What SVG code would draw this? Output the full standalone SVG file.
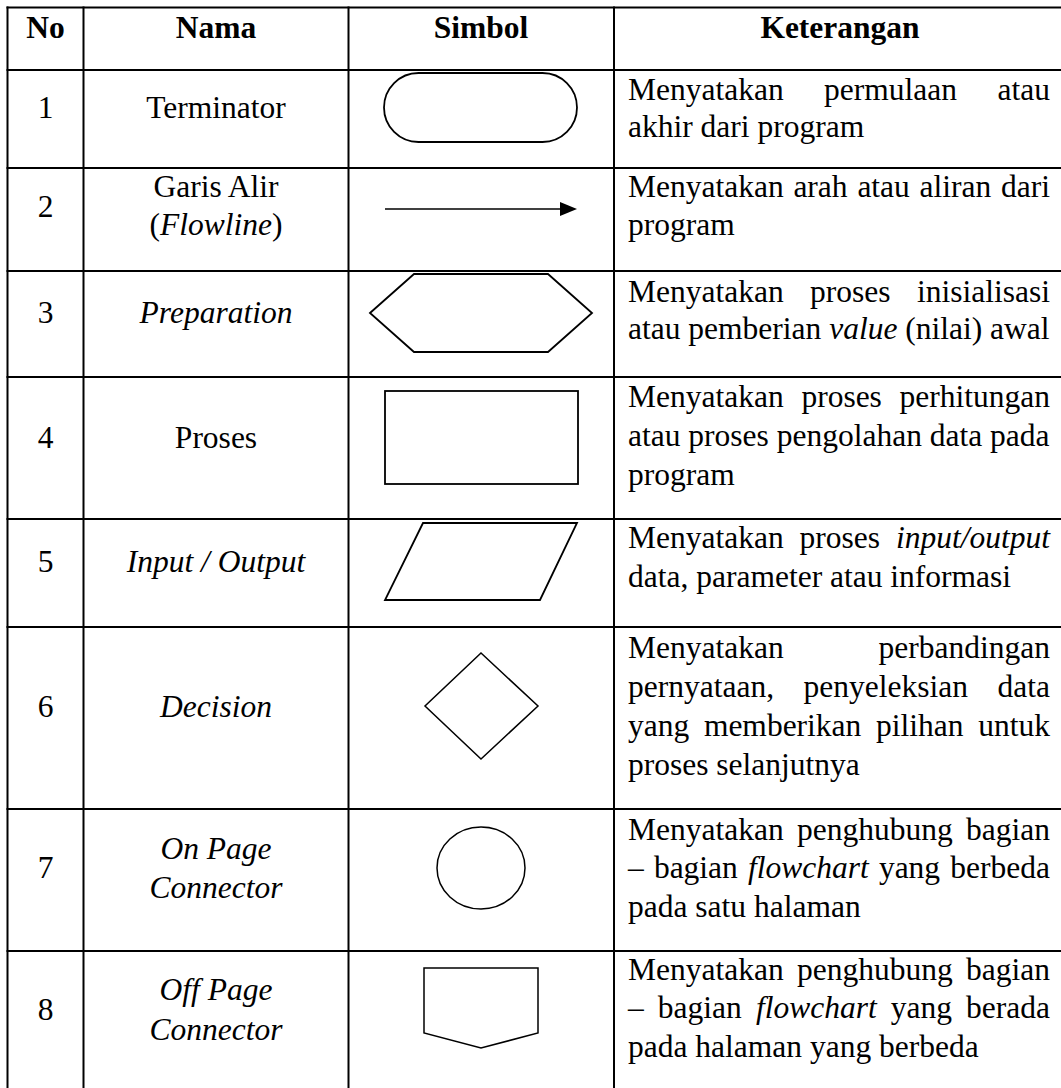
<svg xmlns="http://www.w3.org/2000/svg" width="1061" height="1088" viewBox="0 0 1061 1088">
<style>
text{font-family:"Liberation Serif","Times New Roman",serif;font-size:31.5px;fill:#000}
.h{font-weight:bold}
.c{text-anchor:middle}
.e{text-anchor:end}
.i{font-style:italic}
.grid line{stroke:#000;stroke-width:2}
.shape{fill:none;stroke:#000;stroke-width:1.8}
.thin{fill:none;stroke:#000;stroke-width:1.5}
</style>
<rect width="1061" height="1088" fill="#fff"/>
<g id="grid" class="grid">
<line x1="7.5" y1="6.5" x2="7.5" y2="1088"/>
<line x1="83.5" y1="6.5" x2="83.5" y2="1088"/>
<line x1="348.5" y1="6.5" x2="348.5" y2="1088"/>
<line x1="614" y1="6.5" x2="614" y2="1088"/>
<line x1="6.5" y1="7.5" x2="1061" y2="7.5"/>
<line x1="6.5" y1="70" x2="1061" y2="70"/>
<line x1="6.5" y1="168" x2="1061" y2="168"/>
<line x1="6.5" y1="271" x2="1061" y2="271"/>
<line x1="6.5" y1="377" x2="1061" y2="377"/>
<line x1="6.5" y1="519" x2="1061" y2="519"/>
<line x1="6.5" y1="627" x2="1061" y2="627"/>
<line x1="6.5" y1="809" x2="1061" y2="809"/>
<line x1="6.5" y1="951" x2="1061" y2="951"/>
</g>
<g id="connectors"></g>
<g id="header">
<text class="h c" x="45.5" y="38">No</text>
<text class="h c" x="216" y="38">Nama</text>
<text class="h c" x="481" y="38">Simbol</text>
<text class="h c" x="840" y="38">Keterangan</text>
</g>
<g id="row1">
<text class="c" x="45.5" y="118">1</text>
<text class="c" x="216" y="118">Terminator</text>
<rect class="shape" x="384" y="73" width="193" height="69" rx="34.5" ry="34.5"/>
<text x="628" y="100">Menyatakan</text><text x="824.1" y="100">permulaan</text><text class="e" x="1050" y="100">atau</text>
<text x="628" y="137">akhir dari program</text>
</g>
<g id="row2">
<text class="c" x="45.5" y="217">2</text>
<text class="c" x="216" y="197">Garis Alir</text>
<text class="c" x="216" y="235">(<tspan class="i">Flowline</tspan>)</text>
<line x1="385" y1="209" x2="562" y2="209" stroke="#000" stroke-width="1.4"/>
<polygon points="560,202 577,209 560,216" fill="#000"/>
<text x="628" y="197">Menyatakan</text><text x="793.4" y="197">arah</text><text x="857.4" y="197">atau</text><text x="919.6" y="197">aliran</text><text class="e" x="1050" y="197">dari</text>
<text x="628" y="235">program</text>
</g>
<g id="row3">
<text class="c" x="45.5" y="323">3</text>
<text class="c i" x="216" y="323">Preparation</text>
<polygon class="shape" points="370,313 414,274 548,274 592,313 548,352 414,352"/>
<text x="628" y="302">Menyatakan</text><text x="810.1" y="302">proses</text><text class="e" x="1050" y="302">inisialisasi</text>
<text x="628" y="339">atau pemberian <tspan class="i">value</tspan> (nilai) awal</text>
</g>
<g id="row4">
<text class="c" x="45.5" y="448">4</text>
<text class="c" x="216" y="448">Proses</text>
<rect class="shape" x="385" y="391" width="193" height="93"/>
<text x="628" y="407">Menyatakan</text><text x="801.4" y="407">proses</text><text class="e" x="1050" y="407">perhitungan</text>
<text x="628" y="446">atau proses pengolahan data pada</text>
<text x="628" y="485">program</text>
</g>
<g id="row5">
<text class="c" x="45.5" y="572">5</text>
<text class="c i" x="216" y="572">Input / Output</text>
<polygon class="shape" points="423,523 577,523 540,600 385,600"/>
<text x="628" y="548">Menyatakan</text><text x="799.6" y="548">proses</text><text class="e i" x="1050" y="548">input/output</text>
<text x="628" y="587">data, parameter atau informasi</text>
</g>
<g id="row6">
<text class="c" x="45.5" y="717">6</text>
<text class="c i" x="216" y="717">Decision</text>
<polygon class="thin" points="481,653 538,706 481,759 425,706"/>
<text x="628" y="658">Menyatakan</text><text class="e" x="1050" y="658">perbandingan</text>
<text x="628" y="697">pernyataan,</text><text x="803.5" y="697">penyeleksian</text><text class="e" x="1050" y="697">data</text>
<text x="628" y="736">yang</text><text x="703.9" y="736">memberikan</text><text x="876.1" y="736">pilihan</text><text class="e" x="1050" y="736">untuk</text>
<text x="628" y="775">proses selanjutnya</text>
</g>
<g id="row7">
<text class="c" x="45.5" y="878">7</text>
<text class="c i" x="216" y="859">On Page</text>
<text class="c i" x="216" y="898">Connector</text>
<ellipse class="thin" cx="481" cy="868" rx="44" ry="41"/>
<text x="628" y="840">Menyatakan</text><text x="797" y="840">penghubung</text><text class="e" x="1050" y="840">bagian</text>
<text x="628" y="878">–</text><text x="653.9" y="878">bagian</text><text class="i" x="748" y="878">flowchart</text><text x="878.9" y="878">yang</text><text class="e" x="1050" y="878">berbeda</text>
<text x="628" y="917">pada satu halaman</text>
</g>
<g id="row8">
<text class="c" x="45.5" y="1020">8</text>
<text class="c i" x="216" y="1000">Off Page</text>
<text class="c i" x="216" y="1040">Connector</text>
<polygon class="thin" points="424,968 538,968 538,1033 481,1048 424,1033"/>
<text x="628" y="980">Menyatakan</text><text x="797" y="980">penghubung</text><text class="e" x="1050" y="980">bagian</text>
<text x="628" y="1018">–</text><text x="657.8" y="1018">bagian</text><text class="i" x="755.9" y="1018">flowchart</text><text x="890.8" y="1018">yang</text><text class="e" x="1050" y="1018">berada</text>
<text x="628" y="1057">pada halaman yang berbeda</text>
</g>
</svg>
